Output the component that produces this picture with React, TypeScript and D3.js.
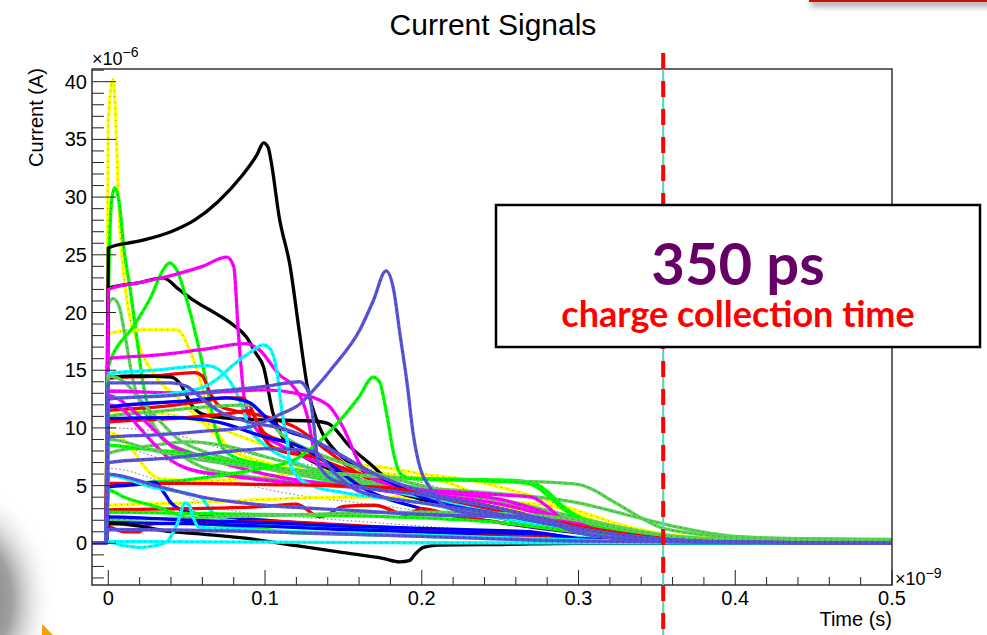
import React from 'react';
import * as d3 from 'd3';

const W = 987;
const H = 635;
const FRAME = { left: 92, right: 892, top: 69, bottom: 585 };
const X_DOMAIN: [number, number] = [-0.0104, 0.5];
const Y_DOMAIN: [number, number] = [-3.61, 41.1];

const X_MAJOR = [0, 0.1, 0.2, 0.3, 0.4, 0.5];
const X_LABELS = ['0', '0.1', '0.2', '0.3', '0.4', '0.5'];
const Y_MAJOR = [0, 5, 10, 15, 20, 25, 30, 35, 40];
const Y_LABELS = ['0', '5', '10', '15', '20', '25', '30', '35', '40'];
const X_MINOR_STEP = 0.02;
const Y_MINOR_STEP = 1;

const TITLE = 'Current Signals';
const X_TITLE = 'Time (s)';
const Y_TITLE = 'Current (A)';
const COLLECTION_TIME = 0.354;
const NOTE_VALUE = '350 ps';
const NOTE_TEXT = 'charge collection time';

const BLACK = '#000000';
const RED = '#ff0000';
const GREEN = '#00ff00';
const BLUE = '#0000ff';
const YELLOW = '#ffff00';
const MAGENTA = '#ff00ff';
const CYAN = '#00ffff';
const GREEN8 = '#59d454';
const BLUE9 = '#5954d9';

// time (x1e-9 s), current (x1e-6 A)
const yellowSpike = [[0,36.5],[0.003,40.2],[0.0075,27],[0.012,21],[0.02,17],[0.03,14.5],[0.046,12.4],[0.06,10.5],[0.08,8],[0.1,7],[0.14,6],[0.18,5],[0.22,4.2],[0.26,3.4],[0.3,2.2],[0.33,1.2],[0.36,0.6],[0.4,0.3],[0.5,0.1]];
const greenSpike = [[0,20],[0.002,29.5],[0.004,30.8],[0.007,29.5],[0.01,25.5],[0.014,22],[0.018,18],[0.022,14],[0.027,11],[0.035,9],[0.05,8],[0.08,7],[0.12,6],[0.16,5],[0.2,4.5],[0.25,3.5],[0.3,2],[0.35,0.8],[0.4,0.3],[0.5,0.1]];
const green8Spike = [[0,20.7],[0.003,21.2],[0.007,20.5],[0.01,18.5],[0.016,14],[0.024,11.2],[0.033,9.5],[0.045,7.8],[0.06,6.6],[0.08,6],[0.1,5.6],[0.15,5.2],[0.2,4.8],[0.25,4.3],[0.3,3.5],[0.33,2.5],[0.36,1.5],[0.4,0.6],[0.45,0.35],[0.5,0.3]];
const blackPeak = [[0,25.6],[0.02,26.2],[0.04,27.0],[0.055,28.0],[0.07,29.6],[0.085,31.8],[0.095,33.7],[0.099,34.7],[0.102,34.3],[0.104,33],[0.109,28.3],[0.116,24],[0.122,18.2],[0.127,13.6],[0.135,10],[0.145,8],[0.16,6.5],[0.18,5],[0.2,4],[0.25,2.5],[0.3,1.2],[0.35,0.4],[0.4,0.1],[0.5,0]];
const black22 = [[0,22.1],[0.02,22.6],[0.035,23],[0.045,22],[0.055,21],[0.07,19.8],[0.08,18.9],[0.088,17.9],[0.094,16.5],[0.099,15.3],[0.105,11.3],[0.11,9.5],[0.12,8],[0.14,6.5],[0.17,5],[0.2,3.8],[0.25,2.2],[0.3,1.1],[0.35,0.4],[0.4,0.1],[0.5,0]];
const black14 = [[0,14.4],[0.02,14.5],[0.04,14.4],[0.046,13.8],[0.053,12],[0.06,11.2],[0.08,10.8],[0.1,10.7],[0.13,10.6],[0.14,10.4],[0.154,8.4],[0.171,6.4],[0.18,5.2],[0.2,3.8],[0.25,2.3],[0.3,1.1],[0.35,0.4],[0.4,0.1],[0.5,0]];
const blackLow = [[0,1.7],[0.02,1.5],[0.035,1.1],[0.06,0.8],[0.09,0.4],[0.12,-0.2],[0.15,-0.8],[0.175,-1.3],[0.186,-1.6],[0.192,-1.5],[0.196,-0.9],[0.201,-0.35],[0.21,-0.15],[0.25,-0.1],[0.3,0],[0.5,0]];
const blue9Peak = [[0,9.2],[0.03,9.4],[0.06,9.7],[0.09,10.1],[0.11,11.2],[0.1224,12.1],[0.129,13],[0.1435,15.3],[0.1605,18.5],[0.169,21],[0.1772,23.6],[0.182,22],[0.186,18.2],[0.1906,13.9],[0.1945,9.5],[0.199,6.5],[0.205,4.9],[0.213,3.4],[0.23,2.6],[0.25,2.4],[0.27,2.3],[0.28,2.1],[0.29,1.6],[0.3,1.0],[0.32,0.5],[0.35,0.2],[0.4,0.1],[0.5,0]];
const blue9Flat7 = [[0,7],[0.04,7.4],[0.08,8],[0.1,8.2],[0.13,8],[0.145,6],[0.16,4.5],[0.2,3.5],[0.25,2.5],[0.3,1.2],[0.35,0.4],[0.4,0.1],[0.5,0]];
const greenPeak14 = [[0,5],[0.05,5.5],[0.09,6.3],[0.118,7.2],[0.1435,10],[0.16,12.7],[0.169,14.4],[0.173,14],[0.178,10.9],[0.182,7.8],[0.186,6.1],[0.1925,5.6],[0.22,5.5],[0.26,5.3],[0.27,5.1],[0.28,4.2],[0.29,3],[0.3,2.1],[0.32,1.2],[0.35,0.6],[0.4,0.3],[0.5,0.1]];
const green24 = [[0,15.3],[0.016,18.8],[0.027,21.3],[0.035,23.7],[0.039,24.3],[0.0436,23.7],[0.05,21.1],[0.0566,17.6],[0.063,13.6],[0.067,10.7],[0.072,8.5],[0.08,7.5],[0.1,6.8],[0.15,5.5],[0.2,4.5],[0.25,3],[0.3,1.5],[0.35,0.5],[0.4,0.2],[0.5,0.1]];
const magenta22 = [[0,22],[0.02,22.6],[0.04,23.2],[0.06,24],[0.0756,24.8],[0.08,24],[0.083,18.2],[0.087,12.4],[0.095,9.8],[0.11,8.5],[0.13,7.2],[0.15,6.2],[0.17,5],[0.2,4],[0.25,2.5],[0.3,1.2],[0.35,0.4],[0.4,0.1],[0.5,0]];
const magenta16 = [[0,16],[0.03,16.3],[0.06,16.8],[0.088,17.3],[0.096,16.8],[0.11,14.5],[0.116,13.9],[0.127,11],[0.133,7],[0.14,5.8],[0.16,5],[0.2,4],[0.25,2.6],[0.3,1.2],[0.35,0.4],[0.4,0.1],[0.5,0]];
const magenta13 = [[0,13.2],[0.05,13],[0.1,13.3],[0.12,13],[0.14,12],[0.15,10],[0.16,7],[0.17,5.5],[0.2,4.6],[0.25,3.8],[0.3,1.8],[0.35,0.5],[0.4,0.1],[0.5,0]];
const magentaFall = [[0,12],[0.01,11.5],[0.02,10],[0.03,8.5],[0.04,7.2],[0.05,6.5],[0.08,5.8],[0.12,5.2],[0.16,4.8],[0.2,4.3],[0.25,3.4],[0.3,1.7],[0.35,0.5],[0.4,0.1],[0.5,0]];
const magentaLong = [[0,12.8],[0.02,11],[0.04,8.5],[0.06,7.5],[0.1,6],[0.15,5],[0.2,4.6],[0.25,4.2],[0.27,4],[0.28,3.2],[0.29,2],[0.3,1.2],[0.32,0.6],[0.35,0.3],[0.4,0.1],[0.5,0]];
const cyan15 = [[0,14.7],[0.03,15],[0.063,15.4],[0.07,15.1],[0.08,13.5],[0.085,12],[0.09,10],[0.1,8.5],[0.12,7],[0.15,5.5],[0.2,4],[0.25,2.5],[0.3,1.1],[0.35,0.4],[0.4,0.1],[0.5,0]];
const cyan17 = [[0,12.5],[0.03,12.8],[0.06,13.5],[0.07,14.3],[0.08,15.5],[0.09,16.5],[0.099,17.2],[0.103,16.9],[0.1075,15],[0.111,11.2],[0.114,9],[0.116,6.9],[0.122,5.6],[0.13,5],[0.15,4.4],[0.2,3.5],[0.25,2.2],[0.3,1],[0.35,0.3],[0.4,0.1],[0.5,0]];
const cyan6 = [[0,5.9],[0.027,4.9],[0.059,4.0],[0.065,2.9],[0.076,2.0],[0.1,1.7],[0.15,1.5],[0.2,1.2],[0.25,0.9],[0.3,0.5],[0.35,0.2],[0.4,0.1],[0.5,0]];
const cyanBump = [[0,0.1],[0.01,-0.2],[0.02,-0.35],[0.03,-0.2],[0.037,0.1],[0.044,1.7],[0.049,3.5],[0.052,3.2],[0.054,2.3],[0.058,1.4],[0.07,1.3],[0.1,1.1],[0.15,0.9],[0.2,0.7],[0.25,0.5],[0.3,0.3],[0.35,0.1],[0.5,0]];
const cyanZero = [[0,0.15],[0.1,0.1],[0.2,0.05],[0.5,0]];
const yellow18 = [[0,18.2],[0.02,18.5],[0.044,18.5],[0.052,16.7],[0.058,14.4],[0.063,11.8],[0.07,9.5],[0.08,8],[0.1,7],[0.15,5.8],[0.2,4.6],[0.25,3.5],[0.3,2],[0.35,0.6],[0.4,0.2],[0.5,0.1]];
const yellowMid = [[0,9.6],[0.015,8.2],[0.022,6.8],[0.033,5.6],[0.06,5.4],[0.1,5.8],[0.15,6.3],[0.192,5.8],[0.218,5.2],[0.242,3.8],[0.271,2.3],[0.303,1.15],[0.33,0.7],[0.36,0.4],[0.4,0.2],[0.5,0.1]];
const yellow11 = [[0,11.5],[0.03,11.3],[0.06,10.5],[0.08,9.5],[0.1,8.5],[0.12,8],[0.15,7],[0.18,6.5],[0.2,6],[0.23,5.5],[0.26,4.5],[0.3,2.8],[0.33,1.5],[0.36,0.7],[0.4,0.3],[0.5,0.1]];
const yellowLow = [[0,3.3],[0.05,3.5],[0.1,3.8],[0.15,4],[0.2,4],[0.25,3.6],[0.28,3.3],[0.3,2.5],[0.32,1.5],[0.35,0.8],[0.4,0.4],[0.5,0.2]];
const blue9High = [[0,13.9],[0.04,13.9],[0.05,13.6],[0.06,12.5],[0.07,11.5],[0.09,10.5],[0.11,10],[0.13,9],[0.15,7.5],[0.17,6],[0.2,4.5],[0.25,3],[0.3,1.3],[0.35,0.4],[0.4,0.1],[0.5,0]];
const blue9Long = [[0,12.5],[0.04,12.8],[0.07,13.2],[0.1,13.6],[0.122,14],[0.128,13],[0.131,10.4],[0.134,7],[0.14,5.8],[0.15,5.2],[0.2,4.2],[0.25,3],[0.3,1.3],[0.35,0.4],[0.4,0.1],[0.5,0]];
const blue9Step = [[0,6],[0.03,5],[0.06,4],[0.1,3.3],[0.15,2.9],[0.2,2.5],[0.25,2.3],[0.27,2.2],[0.28,2.0],[0.29,1.4],[0.3,0.9],[0.33,0.4],[0.37,0.15],[0.4,0.05],[0.5,0]];
const blue9Low = [[0,1.2],[0.1,1],[0.2,0.6],[0.3,0.2],[0.5,0]];
const red14 = [[0,14.3],[0.03,14.5],[0.055,14.8],[0.06,14.5],[0.065,13],[0.07,12],[0.08,11.5],[0.1,11],[0.12,10],[0.14,8],[0.16,6],[0.2,4.2],[0.25,2.8],[0.3,1.3],[0.35,0.4],[0.4,0.1],[0.5,0]];
const red12 = [[0,11.5],[0.03,11.8],[0.06,12.3],[0.075,12.6],[0.085,12.6],[0.09,12],[0.095,10.5],[0.1,9.5],[0.12,8.5],[0.14,7],[0.16,6],[0.2,4.5],[0.25,3],[0.3,1.4],[0.35,0.4],[0.4,0.1],[0.5,0]];
const red10 = [[0,10.5],[0.04,10.8],[0.08,11.3],[0.09,11.5],[0.095,10.5],[0.1,9],[0.11,8],[0.13,7.5],[0.15,6.5],[0.2,4.5],[0.25,3],[0.3,1.3],[0.35,0.4],[0.4,0.1],[0.5,0]];
const red5 = [[0,5.2],[0.05,5.2],[0.1,5.1],[0.15,5],[0.18,4.8],[0.2,4.3],[0.25,3],[0.3,1.5],[0.35,0.5],[0.4,0.1],[0.5,0]];
const red3 = [[0,2.9],[0.05,3],[0.1,3.2],[0.12,3.4],[0.135,2.3],[0.14,2.5],[0.15,3.2],[0.17,3.3],[0.19,2.5],[0.2,3],[0.22,2.4],[0.25,1.8],[0.3,1],[0.35,0.4],[0.4,0.1],[0.5,0]];
const redLow = [[0,1.4],[0.01,1.0],[0.02,1.0],[0.025,1.6],[0.03,1.7],[0.06,1.8],[0.1,1.9],[0.15,1.6],[0.2,1.2],[0.25,0.8],[0.3,0.4],[0.4,0.1],[0.5,0]];
const blue5 = [[0,4.9],[0.02,5.1],[0.03,5.3],[0.035,4.5],[0.04,3.5],[0.045,3],[0.06,2.5],[0.1,2],[0.15,1.5],[0.2,1],[0.25,0.7],[0.3,0.4],[0.4,0.1],[0.5,0]];
const blue12 = [[0,11.8],[0.045,12.3],[0.075,12.6],[0.09,12.2],[0.1,11],[0.11,10],[0.13,9],[0.15,7.5],[0.17,6],[0.2,4],[0.25,2.5],[0.3,1.2],[0.35,0.4],[0.4,0.1],[0.5,0]];
const blue11 = [[0,10.8],[0.04,10.9],[0.07,10.5],[0.1,9.2],[0.12,8.5],[0.14,7],[0.16,5],[0.2,3],[0.25,1.8],[0.3,0.9],[0.35,0.3],[0.4,0.1],[0.5,0]];
const blueLow = [[0,1.8],[0.05,1.7],[0.1,1.5],[0.15,1.2],[0.2,1.0],[0.25,0.9],[0.28,0.8],[0.3,0.4],[0.35,0.15],[0.4,0.05],[0.5,0]];
const blueLow2 = [[0,2.3],[0.05,2.0],[0.1,1.8],[0.15,1.5],[0.2,1.3],[0.25,1.1],[0.27,1.0],[0.28,0.8],[0.3,0.4],[0.35,0.15],[0.4,0.05],[0.5,0]];
const greenLow = [[0,4.6],[0.01,4],[0.03,3.2],[0.06,1.8],[0.1,1.2],[0.12,0.9],[0.15,0.8],[0.2,0.6],[0.3,0.3],[0.4,0.1],[0.5,0]];
const green3 = [[0,2.7],[0.05,2.6],[0.1,2.5],[0.15,2.4],[0.2,2.2],[0.25,1.8],[0.3,1],[0.35,0.4],[0.4,0.1],[0.5,0]];
const greenPlateau = [[0,8.5],[0.02,8.2],[0.05,7.8],[0.08,7],[0.11,6.5],[0.15,6],[0.2,5.6],[0.25,5.5],[0.27,5.3],[0.28,4.5],[0.29,3.2],[0.3,2.3],[0.32,1.3],[0.35,0.6],[0.4,0.3],[0.5,0.1]];
const green8Long = [[0,9],[0.03,8],[0.06,7.2],[0.1,6.5],[0.15,6],[0.2,5.6],[0.25,5.4],[0.28,5.3],[0.3,5.1],[0.31,4.6],[0.32,3.8],[0.33,3],[0.34,2.2],[0.35,1.5],[0.37,0.9],[0.4,0.55],[0.45,0.4],[0.5,0.35]];
const green8Low = [[0,2.0],[0.05,2.2],[0.1,2.4],[0.15,2.6],[0.2,2.7],[0.25,2.6],[0.3,2.0],[0.33,1.2],[0.36,0.6],[0.4,0.3],[0.5,0.2]];
const green8Eleven = [[0,11],[0.03,11.4],[0.06,11.8],[0.09,12],[0.1,11],[0.11,9.5],[0.13,8],[0.16,6.5],[0.2,5],[0.25,3.5],[0.3,1.8],[0.35,0.6],[0.4,0.2],[0.5,0.1]];
const green8Eight = [[0,7.8],[0.03,8.5],[0.05,8.8],[0.08,8.3],[0.1,7.5],[0.13,6.5],[0.16,5.5],[0.2,4.8],[0.25,3.8],[0.3,2.2],[0.35,0.8],[0.4,0.3],[0.5,0.1]];
const green8Fall = [[0,14.5],[0.01,14],[0.02,12.5],[0.03,11],[0.045,9],[0.06,8],[0.08,7.2],[0.1,6.5],[0.15,5.5],[0.2,4.6],[0.25,3.5],[0.3,2],[0.35,0.7],[0.4,0.3],[0.5,0.1]];
const thinA = [[0,8.5],[0.03,7.5],[0.06,6],[0.09,5],[0.12,4.2],[0.16,3.5],[0.2,2.8],[0.25,1.8],[0.3,0.9],[0.4,0.2],[0.5,0]];
const thinB = [[0,10],[0.04,9.5],[0.07,8.3],[0.1,7.5],[0.13,6.8],[0.16,6.6],[0.18,6],[0.22,4.5],[0.3,2],[0.4,0.3],[0.5,0]];
const thinC = [[0,6.5],[0.03,5.5],[0.06,3.5],[0.09,2.6],[0.13,2.2],[0.2,1.5],[0.3,0.6],[0.5,0]];

const BASELINE_T = [-0.0104, -0.0015];

const SERIES: { color: string; data: number[][] }[] = [
  { color: YELLOW, data: yellowSpike },
  { color: GREEN, data: greenSpike },
  { color: YELLOW, data: yellow18 },
  { color: YELLOW, data: yellowMid },
  { color: YELLOW, data: yellow11 },
  { color: YELLOW, data: yellowLow },
  { color: GREEN8, data: green8Spike },
  { color: BLACK, data: blackPeak },
  { color: BLACK, data: black22 },
  { color: GREEN, data: green24 },
  { color: MAGENTA, data: magenta22 },
  { color: MAGENTA, data: magenta16 },
  { color: RED, data: red14 },
  { color: BLACK, data: black14 },
  { color: CYAN, data: cyan15 },
  { color: RED, data: red12 },
  { color: RED, data: red10 },
  { color: GREEN8, data: green8Fall },
  { color: GREEN8, data: green8Eleven },
  { color: GREEN8, data: green8Eight },
  { color: MAGENTA, data: magenta13 },
  { color: MAGENTA, data: magentaFall },
  { color: MAGENTA, data: magentaLong },
  { color: BLUE, data: blue12 },
  { color: BLUE, data: blue11 },
  { color: GREEN, data: greenPlateau },
  { color: GREEN8, data: green8Long },
  { color: GREEN, data: greenPeak14 },
  { color: CYAN, data: cyan17 },
  { color: RED, data: red5 },
  { color: BLUE, data: blue5 },
  { color: CYAN, data: cyan6 },
  { color: RED, data: red3 },
  { color: GREEN, data: green3 },
  { color: GREEN, data: greenLow },
  { color: GREEN8, data: green8Low },
  { color: RED, data: redLow },
  { color: BLUE, data: blueLow2 },
  { color: BLUE, data: blueLow },
  { color: BLACK, data: blackLow },
  { color: CYAN, data: cyanBump },
  { color: CYAN, data: cyanZero },
  { color: BLUE9, data: blue9Low },
  { color: BLUE9, data: blue9Step },
  { color: BLUE9, data: blue9Flat7 },
  { color: BLUE9, data: blue9High },
  { color: BLUE9, data: blue9Long },
  { color: BLUE9, data: blue9Peak },
];

const THIN = [thinA, thinB, thinC];

const FONT = '"Liberation Sans", Arial, Helvetica, sans-serif';
const NOTE_FONT = 'Lato, "Open Sans", sans-serif';

export default function App() {
  const x = d3.scaleLinear().domain(X_DOMAIN).range([FRAME.left, FRAME.right]);
  const y = d3.scaleLinear().domain(Y_DOMAIN).range([FRAME.bottom, FRAME.top]);
  const line = d3
    .line<number[]>()
    .x((d) => x(d[0]))
    .y((d) => y(d[1]))
    .curve(d3.curveMonotoneX);
  const withBase = (d: number[][]) => [...BASELINE_T.map((t) => [t, 0]), ...d];

  const xMinor = d3.range(0, 0.5 + 1e-9, X_MINOR_STEP).filter((v) => !X_MAJOR.some((m) => Math.abs(m - v) < 1e-9));
  const yMinor = d3.range(-3, 41 + 1e-9, Y_MINOR_STEP).filter((v) => !Y_MAJOR.includes(v));
  const xc = x(COLLECTION_TIME);

  return (
    <svg width={W} height={H} style={{ position: 'fixed', left: 0, top: 0, background: '#fff' }}>
      <defs>
        <clipPath id="plot">
          <rect x={FRAME.left} y={FRAME.top} width={FRAME.right - FRAME.left} height={FRAME.bottom - FRAME.top} />
        </clipPath>
        <radialGradient id="shade" cx="0.5" cy="0.5" r="0.5">
          <stop offset="0" stopColor="#6e6e6e" />
          <stop offset="0.55" stopColor="#a0a0a0" />
          <stop offset="1" stopColor="#ffffff" stopOpacity="0" />
        </radialGradient>
        <filter id="barShadow" x="-10%" y="-100%" width="120%" height="600%">
          <feDropShadow dx="2" dy="4" stdDeviation="3" floodColor="#555" floodOpacity="0.6" />
        </filter>
      </defs>
      <rect x={0} y={0} width={W} height={H} fill="#fff" />

      {/* slide decorations */}
      <ellipse cx={-40} cy={600} rx={95} ry={120} fill="url(#shade)" />
      <polygon points="42,624 53,635 42,635" fill="#f5a000" />
      <rect x={809} y={-4} width={190} height={6} fill="#d01010" filter="url(#barShadow)" />

      {/* title */}
      <text x={493} y={35} textAnchor="middle" fontFamily={FONT} fontSize={30} fill="#000">
        {TITLE}
      </text>

      {/* curves */}
      <g clipPath="url(#plot)">
        {THIN.map((d, i) => (
          <path key={'t' + i} d={line(withBase(d)) || ''} fill="none" stroke="#555" strokeWidth={0.8} strokeDasharray="1.5 2.5" />
        ))}
        {SERIES.map((s, i) => (
          <g key={i}>
            <path d={line(withBase(s.data)) || ''} fill="none" stroke={s.color} strokeWidth={3.3} strokeLinejoin="round" />
            <path d={line(withBase(s.data)) || ''} fill="none" stroke="#000" strokeOpacity={0.55} strokeWidth={0.9} strokeDasharray="0.9 5" />
          </g>
        ))}
      </g>

      {/* frame */}
      <rect x={FRAME.left} y={FRAME.top} width={FRAME.right - FRAME.left} height={FRAME.bottom - FRAME.top} fill="none" stroke="#333" strokeWidth={1.5} />

      {/* ticks */}
      <g stroke="#222" strokeWidth={1}>
        {X_MAJOR.map((v) => (
          <line key={'xM' + v} x1={x(v)} x2={x(v)} y1={FRAME.bottom} y2={FRAME.bottom - 15} />
        ))}
        {xMinor.map((v) => (
          <line key={'xm' + v} x1={x(v)} x2={x(v)} y1={FRAME.bottom} y2={FRAME.bottom - 8} />
        ))}
        {Y_MAJOR.map((v) => (
          <line key={'yM' + v} x1={FRAME.left} x2={FRAME.left + 24} y1={y(v)} y2={y(v)} />
        ))}
        {yMinor.map((v) => (
          <line key={'ym' + v} x1={FRAME.left} x2={FRAME.left + 12} y1={y(v)} y2={y(v)} />
        ))}
      </g>

      {/* tick labels */}
      <g fontFamily={FONT} fontSize={20} fill="#000">
        {X_MAJOR.map((v, i) => (
          <text key={'xl' + v} x={x(v)} y={605} textAnchor="middle">
            {X_LABELS[i]}
          </text>
        ))}
        {Y_MAJOR.map((v, i) => (
          <text key={'yl' + v} x={87} y={y(v) + 7} textAnchor="end">
            {Y_LABELS[i]}
          </text>
        ))}
        <text x={FRAME.right} y={626} textAnchor="end">
          {X_TITLE}
        </text>
        <text transform="translate(43,68) rotate(-90)" textAnchor="end">
          {Y_TITLE}
        </text>
      </g>
      <text x={92} y={65} fontFamily={FONT} fontSize={18} fill="#000">
        ×10<tspan fontSize={14} dy={-8}>−6</tspan>
      </text>
      <text x={895} y={585} fontFamily={FONT} fontSize={18} fill="#000">
        ×10<tspan fontSize={14} dy={-7}>−9</tspan>
      </text>

      {/* collection time marker */}
      <line x1={xc} x2={xc} y1={FRAME.top} y2={H} stroke="#40e0c0" strokeWidth={2} />
      <line x1={xc} x2={xc} y1={53} y2={H} stroke="#ff0000" strokeWidth={4} strokeDasharray="16 12" />

      {/* annotation */}
      <rect x={496} y={205} width={484} height={142} fill="#fff" stroke="#000" strokeWidth={2.5} />
      <text x={738} y={285} textAnchor="middle" fontFamily={NOTE_FONT} fontWeight="bold" fontSize={58} fill="#660066">
        {NOTE_VALUE}
      </text>
      <text x={738} y={327} textAnchor="middle" fontFamily={NOTE_FONT} fontWeight="bold" fontSize={36} fill="#ff0000">
        {NOTE_TEXT}
      </text>
    </svg>
  );
}
